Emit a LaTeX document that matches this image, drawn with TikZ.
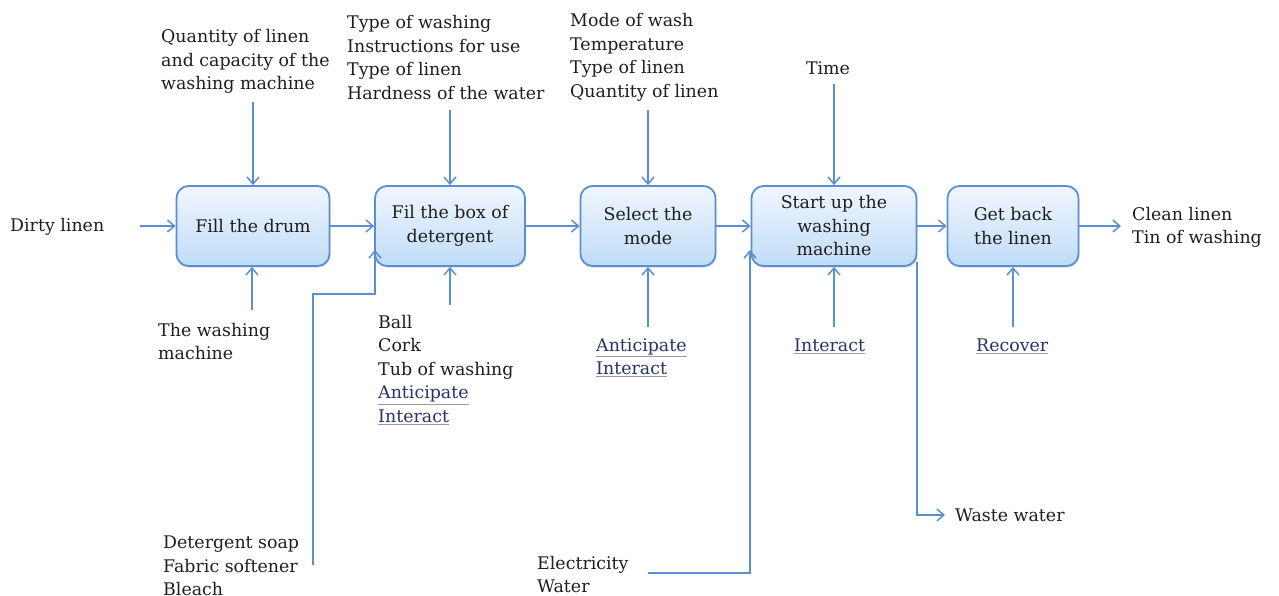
\documentclass[tikz,border=0pt]{standalone}
\usepackage{fontspec}
\setmainfont{DejaVu Serif}
\usetikzlibrary{arrows.meta,shadows}
\definecolor{arrc}{HTML}{5B8FD0}
\definecolor{boxtop}{HTML}{F0F6FE}
\definecolor{boxbot}{HTML}{C0DCF8}
\definecolor{txtc}{HTML}{1E1E1E}
\definecolor{linkc}{HTML}{27336B}
\definecolor{ulc}{HTML}{9A9A9A}
\newcommand{\lnk}[1]{\textcolor{ulc}{\underline{\textcolor{linkc}{#1}}}}
\tikzset{
  procbox/.style={draw=arrc, line width=1.8pt, rounded corners=12pt,
    top color=boxtop, bottom color=boxbot, minimum height=80pt,
    inner sep=0pt, align=center, text=txtc,
    drop shadow={opacity=0.2, shadow xshift=1pt, shadow yshift=-2pt}},
  lbl/.style={anchor=west, align=left, inner sep=0pt, text=txtc},
  arr/.style={draw=arrc, line width=1.8pt, -{Straight Barb[length=7pt,width=12pt,line width=1.5pt]}}
}
\begin{document}
\begin{tikzpicture}[x=1pt,y=-1pt,font=\fontsize{17.4}{23.5}\selectfont]
\useasboundingbox (0,0) rectangle (1279,595);
\clip (0,0) rectangle (1279,595);

% boxes
\node[procbox, minimum width=153pt] (drum) at (253,226) {Fill the drum};
\node[procbox, minimum width=150pt] (dbox) at (450,226) {Fil the box of\\detergent};
\node[procbox, minimum width=135pt] (mode) at (648,226) {Select the\\mode};
\node[procbox, minimum width=165pt] (start) at (834,226) {Start up the\\washing\\machine};
\node[procbox, minimum width=131pt] (back) at (1013,226) {Get back\\the linen};

% texts
\node[lbl] (dirty) at (10,227) {Dirty linen};
\node[lbl] (clean) at (1132,227.5) {Clean linen\\Tin of washing};
\node[lbl] (qty) at (161,61.5) {Quantity of linen\\and capacity of the\\washing machine};
\node[lbl] (tw) at (347,57.5) {Type of washing\\Instructions for use\\Type of linen\\Hardness of the water};
\node[lbl] (mw) at (570,57.5) {Mode of wash\\Temperature\\Type of linen\\Quantity of linen};
\node[lbl, anchor=center] (time) at (828,68) {Time};
\node[lbl] (twm) at (158,341.5) {The washing\\machine};
\node[lbl] (ball) at (378,370) {Ball\\Cork\\Tub of washing\\\lnk{Anticipate}\\\lnk{Interact}};
\node[lbl] (ai) at (596,357.5) {\lnk{Anticipate}\\\lnk{Interact}};
\node[lbl] (inter) at (794,346) {\lnk{Interact}};
\node[lbl] (rec) at (976,346) {\lnk{Recover}};
\node[lbl] (det) at (163,566) {Detergent soap\\Fabric softener\\Bleach};
\node[lbl] (elec) at (537,574.5) {Electricity\\Water};
\node[lbl] (waste) at (955,515) {Waste water};

% coordinates
\coordinate (din) at (140,226);
\coordinate (dout) at (1121,226);
\coordinate (q0) at (253,102);
\coordinate (t0) at (450,110);
\coordinate (m0) at (648,110);
\coordinate (ti0) at (834,84);
\coordinate (b1) at (252,310);
\coordinate (b2) at (450,305);
\coordinate (b3) at (648,327);
\coordinate (b4) at (834,327);
\coordinate (b5) at (1013,327);
\coordinate (d0) at (313,565);
\coordinate (dtip) at (375,250);
\coordinate (e0) at (648,573);
\coordinate (etip) at (750,250);
\coordinate (w0) at (917,262);
\coordinate (wt) at (945,515);

% horizontal flow
\draw[arr] (din) -- (drum.west);
\draw[arr] (drum.east) -- (dbox.west);
\draw[arr] (dbox.east) -- (mode.west);
\draw[arr] (mode.east) -- (start.west);
\draw[arr] (start.east) -- (back.west);
\draw[arr] (back.east) -- (dout);

% top inputs
\draw[arr] (q0) -- (drum.north);
\draw[arr] (t0) -- (dbox.north);
\draw[arr] (m0) -- (mode.north);
\draw[arr] (ti0) -- (start.north);

% bottom inputs
\draw[arr] (b1) -- (b1 |- drum.south);
\draw[arr] (b2) -- (dbox.south);
\draw[arr] (b3) -- (mode.south);
\draw[arr] (b4) -- (start.south);
\draw[arr] (b5) -- (back.south);

% routed
\draw[arr] (d0) -- ++(0,-271) -| (dtip);
\draw[arr] (e0) -| (etip);
\draw[arr] (w0) |- (wt);
\end{tikzpicture}
\end{document}
